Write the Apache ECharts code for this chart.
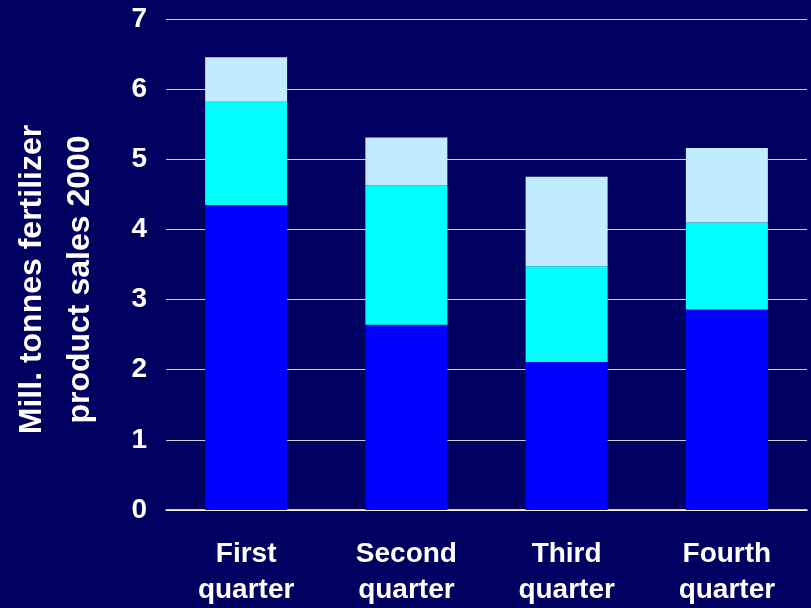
<!DOCTYPE html>
<html>
<head>
<meta charset="utf-8">
<script src="https://cdn.jsdelivr.net/npm/echarts@6/dist/echarts.min.js"></script>
<style>
html,body{margin:0;padding:0;background:#000060;}
#chart{width:811px;height:608px;}
</style>
</head>
<body>
<div id="chart"></div>
<script>
var categories = ['First\nquarter', 'Second\nquarter', 'Third\nquarter', 'Fourth\nquarter'];
var seriesBottom = [4.35, 2.64, 2.11, 2.86];
var seriesMiddle = [1.47, 1.99, 1.365, 1.24];
var seriesTop = [0.635, 0.68, 1.275, 1.06];
var yTicks = [0, 1, 2, 3, 4, 5, 6, 7];
var yTitle = 'Mill. tonnes fertilizer\nproduct sales 2000';

var chart = echarts.init(document.getElementById('chart'), null, {renderer: 'canvas'});
var font = '"Liberation Sans", Arial, sans-serif';
chart.setOption({
  backgroundColor: '#000060',
  animation: false,
  grid: {left: 165, right: 4, top: 19, bottom: 97},
  xAxis: {
    type: 'category',
    data: categories,
    axisTick: {show: false},
    axisLine: {show: true, lineStyle: {color: '#ffffff', width: 1.5}},
    axisLabel: {
      color: '#ffffff', fontFamily: font, fontWeight: 'bold', fontSize: 28,
      lineHeight: 36, margin: 26, interval: 0
    }
  },
  yAxis: {
    type: 'value',
    min: yTicks[0],
    max: yTicks[yTicks.length - 1],
    interval: 1,
    name: yTitle,
    nameLocation: 'middle',
    nameGap: 62,
    nameRotate: 90,
    nameTextStyle: {
      color: '#ffffff', fontFamily: font, fontWeight: 'bold', fontSize: 32,
      lineHeight: 48, padding: [0, 30, 0, 0]
    },
    axisLine: {show: false},
    axisTick: {show: false},
    splitLine: {show: true, lineStyle: {color: '#d0d0e8', width: 1.2}},
    axisLabel: {
      color: '#ffffff', fontFamily: font, fontWeight: 'bold', fontSize: 28, margin: 19
    }
  },
  series: [
    {name: 'a', type: 'bar', stack: 'total', data: seriesBottom, barWidth: 82,
     itemStyle: {color: '#0000ff'}},
    {name: 'b', type: 'bar', stack: 'total', data: seriesMiddle, barWidth: 82,
     itemStyle: {color: '#00ffff'}},
    {name: 'c', type: 'bar', stack: 'total', data: seriesTop, barWidth: 82,
     itemStyle: {color: '#c2ecff'}}
  ]
});
</script>
</body>
</html>
